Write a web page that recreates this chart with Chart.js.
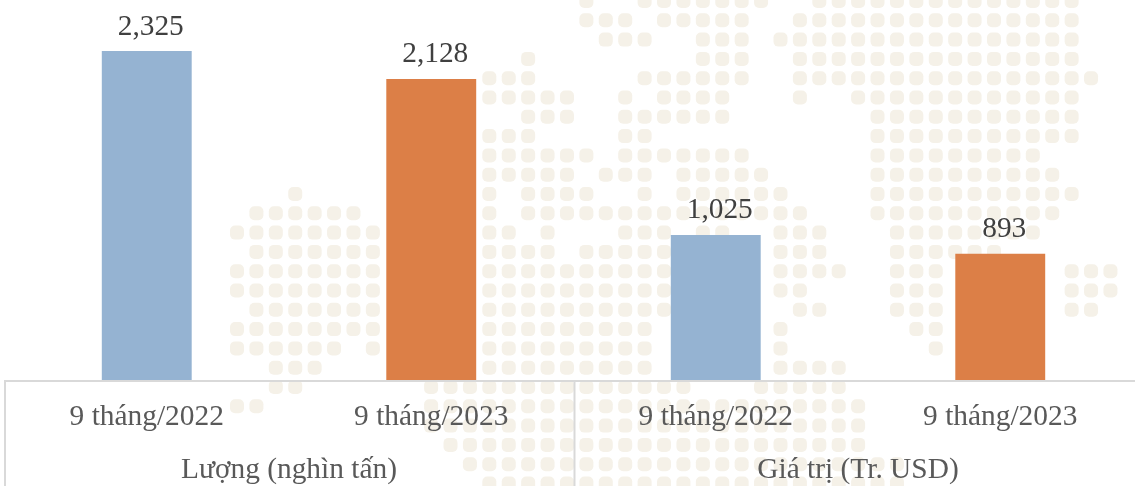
<!DOCTYPE html>
<html>
<head>
<meta charset="utf-8">
<script src="https://cdn.jsdelivr.net/npm/chart.js@4"></script>
<style>
html,body{margin:0;padding:0;background:#fff;overflow:hidden}
#wrap{width:1135px;height:486px;overflow:hidden;position:relative}
canvas{display:block}
</style>
</head>
<body>
<div id="wrap"><canvas id="c" width="1146" height="500" style="width:1146px;height:500px"></canvas></div>
<script>
const categories = ['9 tháng/2022', '9 tháng/2023', '9 tháng/2022', '9 tháng/2023'];
const groups = ['Lượng (nghìn tấn)', 'Giá trị (Tr. USD)'];
const values = [2325, 2128, 1025, 893];
const barColors = ['#95B3D2', '#DC7F47', '#95B3D2', '#DC7F47'];
// decorative dotted world map: occupied grid columns per grid row
const mapRows = [
 '18 21-27 30-43','18-20 22-26 29-43','19-21 24-26 28-43','15 24-26 29-43','13-15 21-26 29-44',
 '13-17 20 22-25 29 32-43','15-17 20-25 33-43','13-15 20-21 33-43','13-18 20-26 33-41','13-17 19-21 23-27 33-42',
 '3 13 15-18 21 23-28 33-43','1-6 13 15-27 28-29 33-42','0-7 13-14 16 20-22 24-25 28-30 34-41','1-7 13-16 18-22 28-30 34-39',
 '0-7 13-22 28-31 34-36 43-45','0-7 13-22 28-29 34-36 43-45','1-7 13-22 29-30 34-36 43-44','0-7 13-21 28 35-36',
 '0-5 7 13-21 28 36','2-4 13-21 28-31','2-3 10-23 27-31','0-1 10-32','10-32','11-32','12-34','13-34'
];
const mapBackground = {
  id: 'mapBackground',
  beforeDraw(chart) {
    const ctx = chart.ctx;
    ctx.save();
    ctx.fillStyle = '#fff';
    ctx.fillRect(0, 0, chart.width, chart.height);
    ctx.fillStyle = '#F5F1E8';
    mapRows.forEach((row, r) => {
      row.split(' ').forEach(part => {
        const [a, b] = part.split('-').map(Number);
        for (let k = a; k <= (b === undefined ? a : b); k++) {
          const x = 237 + 19.41 * k, y = 1 + 19.3 * r;
          ctx.beginPath(); ctx.roundRect(x - 7, y - 7, 14, 14, 5); ctx.fill();
        }
      });
    });
    ctx.restore();
  }
};
const valueLabels = {
  id: 'valueLabels',
  afterDatasetsDraw(chart) {
    const ctx = chart.ctx;
    ctx.save();
    ctx.font = '29.4px "Liberation Serif"';
    ctx.fillStyle = '#404040';
    ctx.textAlign = 'center';
    ctx.textBaseline = 'alphabetic';
    chart.getDatasetMeta(0).data.forEach((bar, i) => {
      ctx.fillText(values[i].toLocaleString('en-US'), bar.x + 4, bar.y - 16.5);
    });
    ctx.restore();
  }
};
const separators = {
  id: 'separators',
  afterDraw(chart) {
    const x = chart.scales.x, ctx = chart.ctx;
    ctx.save();
    ctx.strokeStyle = '#D9D9D9';
    ctx.lineWidth = 2;
    ctx.beginPath(); ctx.moveTo(x.left, x.top + 1); ctx.lineTo(x.right, x.top + 1); ctx.stroke();
    [x.left + 0.5, (x.left + x.right) / 2 + 1].forEach(px => {
      ctx.beginPath(); ctx.moveTo(px, x.top); ctx.lineTo(px, chart.height); ctx.stroke();
    });
    ctx.restore();
  }
};
new Chart(document.getElementById('c'), {
  type: 'bar',
  data: {
    labels: categories,
    datasets: [{ data: values, backgroundColor: barColors, borderWidth: 0, barPercentage: 0.316, categoryPercentage: 1 }]
  },
  plugins: [mapBackground, valueLabels, separators],
  options: {
    responsive: false,
    animation: false,
    layout: { padding: { left: 4.5, right: 3.5, top: 0, bottom: 0 } },
    plugins: { legend: { display: false }, tooltip: { enabled: false } },
    scales: {
      y: { display: false, min: 0, max: 2686 },
      x: {
        position: 'bottom',
        grid: { display: false },
        border: { display: false },
        ticks: { color: '#595959', font: { family: '"Liberation Serif"', size: 29.4 }, padding: 12, maxRotation: 0, autoSkip: false },
        afterFit(s) { s.height = 60; }
      },
      x2: {
        type: 'category',
        position: 'bottom',
        labels: groups,
        grid: { display: false },
        border: { display: false },
        ticks: { color: '#595959', font: { family: '"Liberation Serif"', size: 29.4 }, padding: 5, maxRotation: 0, autoSkip: false },
        afterFit(s) { s.height = 60; }
      }
    }
  }
});
</script>
</body>
</html>
